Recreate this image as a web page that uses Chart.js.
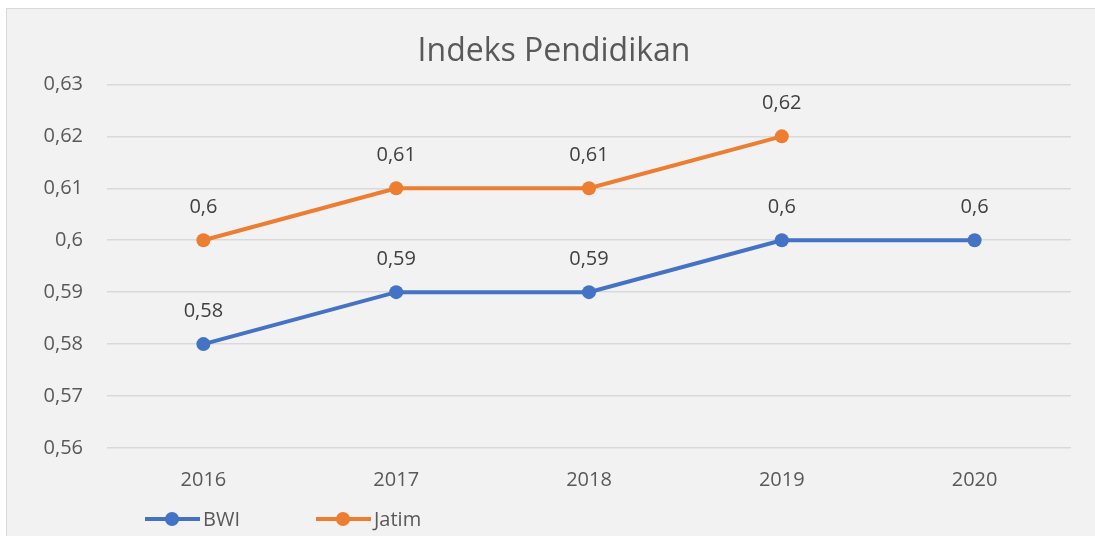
<!DOCTYPE html>
<html>
<head>
<meta charset="utf-8">
<script src="https://cdn.jsdelivr.net/npm/chart.js@4.4.0/dist/chart.umd.min.js"></script>
<style>
  body { margin: 0; background: #ffffff; }
  #frame { position: absolute; left: 6px; top: 8px; width: 1100px; height: 540px; background: #f2f2f2; border: 1px solid #d9d9d9; }
  #wrap { position: absolute; left: 0; top: 0; width: 1095px; height: 536px; }
</style>
</head>
<body>
<div id="frame"></div>
<div id="wrap"><canvas id="chart" width="1095" height="536"></canvas></div>
<script>
// Data
const years = ["2016", "2017", "2018", "2019", "2020"];
const bwi = [0.58, 0.59, 0.59, 0.60, 0.60];
const jatim = [0.60, 0.61, 0.61, 0.62, null];
const yTicks = [0.56, 0.57, 0.58, 0.59, 0.60, 0.61, 0.62, 0.63];

const fontFam = "'Open Sans', 'Noto Sans', sans-serif";
const textColor = "#595959";

function fmt(v) {
  return Number(v.toFixed(2)).toString().replace(".", ",");
}

// labels above points
const pointLabels = {
  id: "pointLabels",
  afterDatasetsDraw(chart) {
    const ctx = chart.ctx;
    ctx.save();
    ctx.font = "20px " + fontFam;
    ctx.fillStyle = "#404040";
    ctx.textAlign = "center";
    ctx.textBaseline = "middle";
    chart.data.datasets.forEach(function(ds, i) {
      const meta = chart.getDatasetMeta(i);
      meta.data.forEach(function(pt, j) {
        if (ds.data[j] == null) return;
        ctx.fillText(fmt(ds.data[j]), pt.x, pt.y - 33);
      });
    });
    ctx.restore();
  }
};

// legend at the bottom, line with dot
const bottomLegend = {
  id: "bottomLegend",
  afterDraw(chart) {
    const ctx = chart.ctx;
    const y = 519;
    const starts = [145, 316];
    ctx.save();
    ctx.font = "20px " + fontFam;
    ctx.textBaseline = "middle";
    chart.data.datasets.forEach(function(ds, i) {
      const x = starts[i];
      ctx.strokeStyle = ds.borderColor;
      ctx.lineWidth = 4;
      ctx.beginPath();
      ctx.moveTo(x, y);
      ctx.lineTo(x + 55, y);
      ctx.stroke();
      ctx.fillStyle = ds.borderColor;
      ctx.beginPath();
      ctx.arc(x + 27, y, 7, 0, Math.PI * 2);
      ctx.fill();
      ctx.fillStyle = textColor;
      ctx.fillText(ds.label, x + 58, y + 1);
    });
    ctx.restore();
  }
};

new Chart(document.getElementById("chart"), {
  type: "line",
  data: {
    labels: years,
    datasets: [
      {
        label: "BWI",
        data: bwi,
        borderColor: "#4472c4",
        backgroundColor: "#4472c4",
        borderWidth: 4,
        pointRadius: 7,
        pointBorderWidth: 0,
        tension: 0
      },
      {
        label: "Jatim",
        data: jatim,
        borderColor: "#ed7d31",
        backgroundColor: "#ed7d31",
        borderWidth: 4,
        pointRadius: 7,
        pointBorderWidth: 0,
        tension: 0
      }
    ]
  },
  options: {
    responsive: false,
    animation: false,
    layout: { padding: { left: 37, right: 24, top: 0, bottom: 0 } },
    plugins: {
      legend: { display: false },
      tooltip: { enabled: false },
      title: {
        display: true,
        text: "Indeks Pendidikan",
        color: textColor,
        font: { family: fontFam, size: 32, weight: "normal", lineHeight: 1.2 },
        padding: { top: 33, bottom: 13 }
      }
    },
    scales: {
      x: {
        offset: true,
        grid: { display: false, drawTicks: false },
        border: { display: false },
        ticks: { color: textColor, font: { family: fontFam, size: 20 }, padding: 20 },
        afterFit: function(scale) { scale.height = 88; }
      },
      y: {
        min: 0.56,
        max: 0.63,
        afterBuildTicks: function(scale) {
          scale.ticks = yTicks.map(function(v) { return { value: v }; });
        },
        grid: { color: "#d9d9d9", lineWidth: 1.5, drawTicks: false },
        border: { display: false },
        ticks: {
          color: textColor,
          font: { family: fontFam, size: 20 },
          padding: 24,
          callback: function(v) { return fmt(v); }
        },
        afterFit: function(scale) { scale.width = 70; }
      }
    }
  },
  plugins: [pointLabels, bottomLegend]
});
</script>
</body>
</html>
